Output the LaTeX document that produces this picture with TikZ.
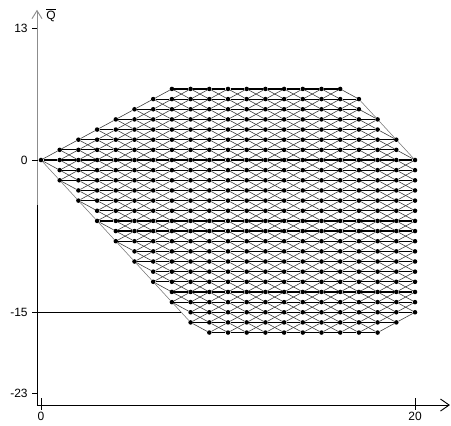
\documentclass[tikz,border=0pt]{standalone}
\usepackage{amsmath}
\usepackage{fontspec}
\setmainfont{Liberation Sans}
\usetikzlibrary{arrows.meta}

\tikzset{
  dot/.style={circle,fill=black,inner sep=0pt,minimum size=3.4pt},
  rowline/.style={black,line width=0.9pt},
  crossline/.style={black!75,line width=0.45pt},
  rim/.style={black!55,line width=0.4pt},
  axis/.style={line width=0.7pt},
  ticklabel/.style={font=\fontsize{9}{10}\selectfont,inner sep=0pt}
}

\begin{document}
\begin{tikzpicture}[x=14.025pt,y=7.6125pt]
    \useasboundingbox (-2.1925,-26.108) rectangle (21.925,15.764);

    %axes
    \coordinate (o) at (-0.214,-24.14);
    \coordinate (ytop) at (-0.214,14.8);
    \coordinate (ysplit) at (-0.214,-4.4);
    \coordinate (xend) at (21.87,-24.14);
    \draw [axis,black!45,-{Straight Barb[length=6pt,width=7.5pt]}] (ysplit) -- (ytop);
    \draw [axis] (o) -- (ysplit);
    \draw [axis,-{Straight Barb[length=6.5pt,width=9pt]}] (o) -- (xend);
    \node [ticklabel,anchor=west] (qlab) at (0.27,14.3) {$\overline{\text{Q}}$};

    %lattice points, row index r = q+17
    \foreach \x in {0,...,20} {
        \pgfmathtruncatemacro\qlo{max(-17,-2*\x,\x-35)+17}
        \pgfmathtruncatemacro\qhi{min(7,\x,40-2*\x)+17}
        \foreach \r in {\qlo,...,\qhi}
            \node [dot] (p\x-\r) at (\x,\r-17) {};
    }

    %edges between neighbouring columns
    \foreach \x in {0,...,19} {
        \pgfmathtruncatemacro\xn{\x+1}
        \pgfmathtruncatemacro\qlo{max(-17,-2*\x,\x-35)+17}
        \pgfmathtruncatemacro\qhi{min(7,\x,40-2*\x)+17}
        \pgfmathtruncatemacro\nqlo{max(-17,-2*\xn,\xn-35)+17}
        \pgfmathtruncatemacro\nqhi{min(7,\xn,40-2*\xn)+17}
        % same row
        \pgfmathtruncatemacro\ra{max(\qlo,\nqlo)}
        \pgfmathtruncatemacro\rb{min(\qhi,\nqhi)}
        \ifnum\ra>\rb\else
            \foreach \r in {\ra,...,\rb}
                \draw [rowline] (p\x-\r) -- (p\xn-\r);
        \fi
        % one row up
        \pgfmathtruncatemacro\ra{max(\qlo,\nqlo-1)}
        \pgfmathtruncatemacro\rb{min(\qhi,\nqhi-1)}
        \ifnum\ra>\rb\else
            \foreach \r [evaluate=\r as \rn using int(\r+1)] in {\ra,...,\rb}
                \draw [crossline] (p\x-\r) -- (p\xn-\rn);
        \fi
        % one row down
        \pgfmathtruncatemacro\ra{max(\qlo,\nqlo+1)}
        \pgfmathtruncatemacro\rb{min(\qhi,\nqhi+1)}
        \ifnum\ra>\rb\else
            \foreach \r [evaluate=\r as \rn using int(\r-1)] in {\ra,...,\rb}
                \draw [crossline] (p\x-\r) -- (p\xn-\rn);
        \fi
    }

    %outer rim
    \draw [rim] (p0-17) -- (p1-15) -- (p2-13) -- (p3-11) -- (p4-9) -- (p5-7)
        -- (p6-5) -- (p7-3) -- (p8-1);
    \draw [rim] (p17-23) -- (p18-21) -- (p19-19) -- (p20-17);

    %ticks and labels on Q
    \coordinate (t13) at (-0.48,13);
    \coordinate (a13) at (-0.214,13);
    \coordinate (t0) at (-0.48,0);
    \coordinate (t15) at (-0.48,-15);
    \coordinate (e15) at (7.5,-15);
    \coordinate (t23) at (-0.48,-23);
    \coordinate (a23) at (-0.214,-23);
    \draw [axis] (t13) -- (a13);
    \draw [axis] (t0) -- (p0-17);
    \draw [axis] (t15) -- (e15);
    \draw [axis] (t23) -- (a23);
    \node [ticklabel,anchor=east] (l13) at (-0.7,13) {13};
    \node [ticklabel,anchor=east] (l0) at (-0.7,0) {0};
    \node [ticklabel,anchor=east] (l15) at (-0.7,-15) {-15};
    \node [ticklabel,anchor=east] (l23) at (-0.7,-23) {-23};

    %ticks and labels on x
    \coordinate (u0) at (0,-23.45);
    \coordinate (d0) at (0,-24.63);
    \coordinate (u20) at (20,-23.45);
    \coordinate (d20) at (20,-24.63);
    \draw [axis] (u0) -- (d0);
    \draw [axis] (u20) -- (d20);
    \node [ticklabel] (lx0) at (0,-25.3) {0};
    \node [ticklabel] (lx20) at (20,-25.3) {20};
\end{tikzpicture}
\end{document}
